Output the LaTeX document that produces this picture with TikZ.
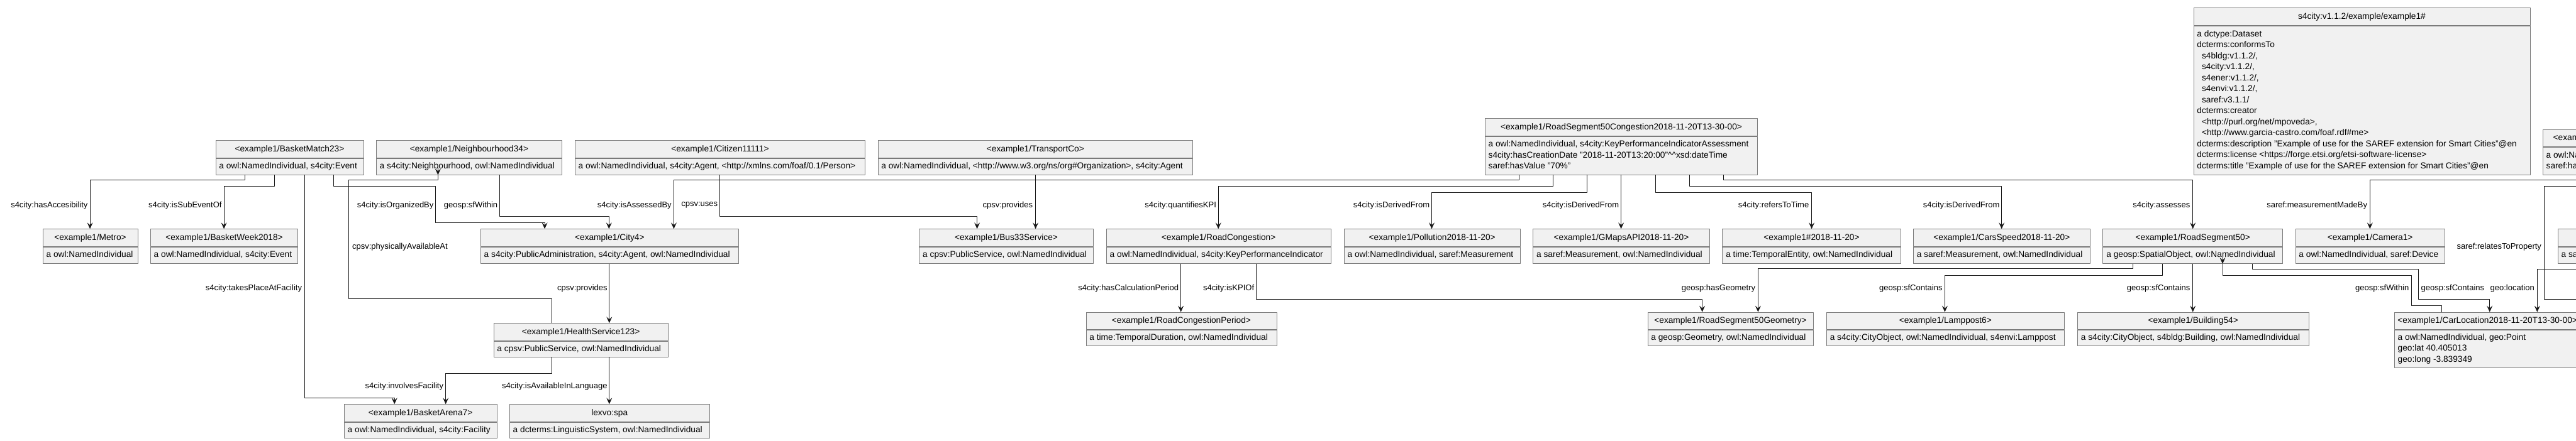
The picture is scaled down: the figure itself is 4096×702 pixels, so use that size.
\documentclass[tikz,border=0pt]{standalone}
\usepackage{fontspec}
\setmainfont{Liberation Sans}
\usepackage{tikz}
\usetikzlibrary{arrows.meta}

\definecolor{boxfill}{HTML}{F1F1F1}
\definecolor{boxline}{HTML}{7A7A7A}
\definecolor{linec}{HTML}{181818}

\def\upx{0.025cm}
\newcommand\efont{\fontsize{9.75pt}{12.45pt}\selectfont}
\newcommand\lfont{\fontsize{9.25pt}{11pt}\selectfont}
\newcommand\ind{\hspace*{0.556em}}
\newlength\entw
% entity box: name, x, y (top left), width, header, body lines, body height
\newcommand\ent[7]{%
  \pgfmathsetlength\entw{(#4-11)*\upx}%
  \node[hd, minimum width=#4*\upx, anchor=north west] (#1) at (#2,#3) {#5};
  \node[hd, minimum width=#4*\upx, minimum height=#7*\upx, anchor=north] (#1-b) at (#1.south) {\makebox[\entw][l]{\begin{tabular}{@{}l@{}}#6\end{tabular}}};
}

\tikzset{
  hd/.style={draw=boxline, fill=boxfill, line width=0.6pt, inner sep=0pt, minimum height=27.5*\upx, font=\efont},
  lbl/.style={inner sep=0pt, anchor=east, font=\lfont},
  rel/.style={draw=linec, line width=0.7pt, -{Stealth[length=7.1pt, width=6.4pt, inset=2.8pt]}},
  relnt/.style={draw=linec, line width=0.7pt}
}

\begin{document}
\begin{tikzpicture}[x=\upx, y=-\upx, line join=round]
        \useasboundingbox (0,0) rectangle (4096,702);
        \clip (0,0) rectangle (4096,702);

        % top row
        \ent{bm}{342.5}{223.3}{235}{<example1/BasketMatch23>}{a owl:NamedIndividual, s4city:Event}{26}
        \ent{nb}{597.8}{223.3}{295.5}{<example1/Neighbourhood34>}{a s4city:Neighbourhood, owl:NamedIndividual}{26}
        \ent{cz}{913.8}{223.3}{461.4}{<example1/Citizen11111>}{a owl:NamedIndividual, s4city:Agent, <http://xmlns.com/foaf/0.1/Person>}{26}
        \ent{tc}{1395.5}{223.3}{500.9}{<example1/TransportCo>}{a owl:NamedIndividual, <http://www.w3.org/ns/org\#Organization>, s4city:Agent}{26}
        \ent{rsc}{2360.7}{188.3}{433.7}{<example1/RoadSegment50Congestion2018-11-20T13-30-00>}{a owl:NamedIndividual, s4city:KeyPerformanceIndicatorAssessment\\ s4city:hasCreationDate "2018-11-20T13:20:00"\textasciicircum\textasciicircum xsd:dateTime\\ saref:hasValue "70\%"}{61}
        \ent{ds}{3487.5}{12.3}{535}{s4city:v1.1.2/example/example1\#}{a dctype:Dataset\\ dcterms:conformsTo\\ \ind s4bldg:v1.1.2/,\\ \ind s4city:v1.1.2/,\\ \ind s4ener:v1.1.2/,\\ \ind s4envi:v1.1.2/,\\ \ind saref:v3.1.1/\\ dcterms:creator\\ \ind <http://purl.org/net/mpoveda>,\\ \ind <http://www.garcia-castro.com/foaf.rdf\#me>\\ dcterms:description "Example of use for the SAREF extension for Smart Cities"@en\\ dcterms:license <https://forge.etsi.org/etsi-software-license>\\ dcterms:title "Example of use for the SAREF extension for Smart Cities"@en}{237}
        \ent{ms}{4042.7}{205.7}{104.4}{<example1/}{a owl:NamedIndividual\\ saref:hasValue}{43.6}

        % second row
        \ent{mt}{67.7}{364.3}{150.8}{<example1/Metro>}{a owl:NamedIndividual}{26.5}
        \ent{bw}{238.8}{364.3}{234.6}{<example1/BasketWeek2018>}{a owl:NamedIndividual, s4city:Event}{26.5}
        \ent{c4}{763.8}{364.3}{410.3}{<example1/City4>}{a s4city:PublicAdministration, s4city:Agent, owl:NamedIndividual}{26.5}
        \ent{bus}{1461.3}{364.3}{276.5}{<example1/Bus33Service>}{a cpsv:PublicService, owl:NamedIndividual}{26.5}
        \ent{rc}{1758.7}{364.3}{357.1}{<example1/RoadCongestion>}{a owl:NamedIndividual, s4city:KeyPerformanceIndicator}{26.5}
        \ent{pol}{2136.7}{364.3}{280.1}{<example1/Pollution2018-11-20>}{a owl:NamedIndividual, saref:Measurement}{26.5}
        \ent{gm}{2437.2}{364.3}{280.7}{<example1/GMapsAPI2018-11-20>}{a saref:Measurement, owl:NamedIndividual}{26.5}
        \ent{dt}{2738.3}{364.3}{283.6}{<example1\#2018-11-20>}{a time:TemporalEntity, owl:NamedIndividual}{26.5}
        \ent{cs}{3041.8}{364.3}{281.2}{<example1/CarsSpeed2018-11-20>}{a saref:Measurement, owl:NamedIndividual}{26.5}
        \ent{rs}{3343.4}{364.3}{285.7}{<example1/RoadSegment50>}{a geosp:SpatialObject, owl:NamedIndividual}{26.5}
        \ent{cam}{3649.5}{364.3}{237.4}{<example1/Camera1>}{a owl:NamedIndividual, saref:Device}{26.5}
        \ent{pr}{4066.7}{364.3}{100}{}{a saref:Property}{26.5}

        % third and fourth row
        \ent{hs}{784.5}{514.3}{277.3}{<example1/HealthService123>}{a cpsv:PublicService, owl:NamedIndividual}{25}
        \ent{rcp}{1726.5}{496.7}{303}{<example1/RoadCongestionPeriod>}{a time:TemporalDuration, owl:NamedIndividual}{25.3}
        \ent{geom}{2619.5}{496.7}{263.2}{<example1/RoadSegment50Geometry>}{a geosp:Geometry, owl:NamedIndividual}{25.3}
        \ent{lp}{2903.8}{496.7}{378.1}{<example1/Lamppost6>}{a s4city:CityObject, owl:NamedIndividual, s4envi:Lamppost}{25.3}
        \ent{bld}{3302.9}{496.7}{367.6}{<example1/Building54>}{a s4city:CityObject, s4bldg:Building, owl:NamedIndividual}{25.3}
        \ent{cl}{3806.7}{496.7}{296}{<example1/CarLocation2018-11-20T13-30-00>}{a owl:NamedIndividual, geo:Point\\ geo:lat 40.405013\\ geo:long -3.839349}{60}
        \ent{ba}{546.8}{643.3}{242.9}{<example1/BasketArena7>}{a owl:NamedIndividual, s4city:Facility}{25.2}
        \ent{lx}{809.8}{643.3}{318}{lexvo:spa}{a dcterms:LinguisticSystem, owl:NamedIndividual}{25.2}

        % relations
        \draw[rel] (389.6,0 |- bm-b.south) |- (143.1,286.3) -- (143.1,0 |- mt.north);
        \draw[rel] (436.3,0 |- bm-b.south) |- (356.1,296.3) -- (356.1,0 |- bw.north);
        \draw[rel] (484.1,0 |- bm-b.south) |- (627.2,633.3) -- (627.2,0 |- ba.north);
        \draw[rel] (530.4,0 |- bm-b.south) |- (692.9,296.3) |- (866.1,354) -- (866.1,0 |- c4.north);
        \draw[rel] (794.6,0 |- nb-b.south) |- (968.3,344.3) -- (968.3,0 |- c4.north);
        \draw[relnt] (877,0 |- hs.north) |- (554.5,475.7) |- (696.4,286.3) -- (696.4,0 |- nb-b.south);
        \coordinate (g1) at (696.4,266.7);
        \draw[rel] (g1) -- (696.4,0 |- nb-b.south);
        \draw[rel] (968.8,0 |- c4-b.south) -- (968.8,0 |- hs.north);
        \draw[rel] (877,0 |- hs-b.south) |- (708.7,594.3) -- (708.7,0 |- ba.north);
        \draw[rel] (968.8,0 |- hs-b.south) -- (968.8,0 |- lx.north);
        \draw[rel] (2415.3,0 |- rsc-b.south) |- (1071.4,286.3) -- (1071.4,0 |- c4.north);
        \draw[rel] (1144.7,0 |- cz-b.south) |- (1553.6,344.3) -- (1553.6,0 |- bus.north);
        \draw[rel] (1646.6,0 |- tc-b.south) -- (1646.6,0 |- bus.north);
        \draw[rel] (2469.4,0 |- rsc-b.south) |- (1937.2,296.3) -- (1937.2,0 |- rc.north);
        \draw[rel] (2523.5,0 |- rsc-b.south) |- (2276.5,306.3) -- (2276.5,0 |- pol.north);
        \draw[rel] (2577.6,0 |- rsc-b.south) -- (2577.6,0 |- gm.north);
        \draw[rel] (2632.7,0 |- rsc-b.south) |- (2880.6,306.3) -- (2880.6,0 |- dt.north);
        \draw[rel] (2686.7,0 |- rsc-b.south) |- (3182.7,296.3) -- (3182.7,0 |- cs.north);
        \draw[rel] (2740.3,0 |- rsc-b.south) |- (3486.7,286.3) -- (3486.7,0 |- rs.north);
        \draw[rel] (4200,0 |- ms-b.south) |- (3768.3,286.3) -- (3768.3,0 |- cam.north);
        \draw[rel] (4250,0 |- ms-b.south) |- (4045.6,296.3) |- (4300,476) -- (4300,0 |- pr-b.south);
        \draw[rel] (4150,0 |- ms-b.south) |- (4034.3,428.3) -- (4034.3,0 |- cl.north);
        \draw[rel] (1877.6,0 |- rc-b.south) -- (1877.6,0 |- rcp.north);
        \draw[rel] (1997.4,0 |- rc-b.south) |- (2706.6,476) -- (2706.6,0 |- geom.north);
        \draw[rel] (3391.3,0 |- rs-b.south) |- (2795.4,427.7) -- (2795.4,0 |- geom.north);
        \draw[rel] (3438.3,0 |- rs-b.south) |- (3092.4,438) -- (3092.4,0 |- lp.north);
        \draw[rel] (3486.7,0 |- rs-b.south) -- (3486.7,0 |- bld.north);
        \draw[rel] (3581.7,0 |- rs-b.south) |- (3845.2,428.3) |- (3958.7,476.7) -- (3958.7,0 |- cl.north);
        \draw[relnt] (3882.7,0 |- cl.north) |- (3834.4,486.7) |- (3534,438.3) -- (3534,0 |- rs-b.south);
        \coordinate (g2) at (3534,408.3);
        \draw[rel] (g2) -- (3534,0 |- rs-b.south);

        % labels
        \node[lbl] (l-acc) at (139.7,326.7) {s4city:hasAccesibility};
        \node[lbl] (l-sub) at (352.8,326.7) {s4city:isSubEventOf};
        \node[lbl] (l-org) at (689.7,326.7) {s4city:isOrganizedBy};
        \node[lbl] (l-within) at (791.5,326.7) {geosp:sfWithin};
        \node[lbl] (l-assby) at (1068,326.7) {s4city:isAssessedBy};
        \node[lbl] (l-uses) at (1141.4,326.7) {cpsv:uses};
        \node[lbl] (l-prov) at (1642.3,326.7) {cpsv:provides};
        \node[lbl] (l-kpi) at (1934.2,326.7) {s4city:quantifiesKPI};
        \node[lbl] (l-der1) at (2273.5,326.7) {s4city:isDerivedFrom};
        \node[lbl] (l-der2) at (2574.5,326.7) {s4city:isDerivedFrom};
        \node[lbl] (l-time) at (2876.5,326.7) {s4city:refersToTime};
        \node[lbl] (l-der3) at (3179.6,326.7) {s4city:isDerivedFrom};
        \node[lbl] (l-ass) at (3482.7,326.7) {s4city:assesses};
        \node[lbl] (l-made) at (3764.3,326.7) {saref:measurementMadeBy};
        \node[lbl, anchor=west] (l-avail) at (559.8,392.7) {cpsv:physicallyAvailableAt};
        \node[lbl] (l-prop) at (4041.2,392.7) {saref:relatesToProperty};
        \node[lbl] (l-fac) at (480.3,458.7) {s4city:takesPlaceAtFacility};
        \node[lbl] (l-prov2) at (965.9,459) {cpsv:provides};
        \node[lbl] (l-per) at (1874.5,458.7) {s4city:hasCalculationPeriod};
        \node[lbl] (l-kpiof) at (1994.4,458.7) {s4city:isKPIOf};
        \node[lbl] (l-geom) at (2791.3,458.7) {geosp:hasGeometry};
        \node[lbl] (l-cont1) at (3088.8,458.7) {geosp:sfContains};
        \node[lbl] (l-cont2) at (3482.7,458.7) {geosp:sfContains};
        \node[lbl] (l-within2) at (3830.7,458.7) {geosp:sfWithin};
        \node[lbl, anchor=west] (l-cont3) at (3849.3,458.7) {geosp:sfContains};
        \node[lbl] (l-loc) at (4030,458.7) {geo:location};
        \node[lbl] (l-infac) at (705.3,615) {s4city:involvesFacility};
        \node[lbl] (l-lang) at (965.9,615) {s4city:isAvailableInLanguage};

\end{tikzpicture}
\end{document}
